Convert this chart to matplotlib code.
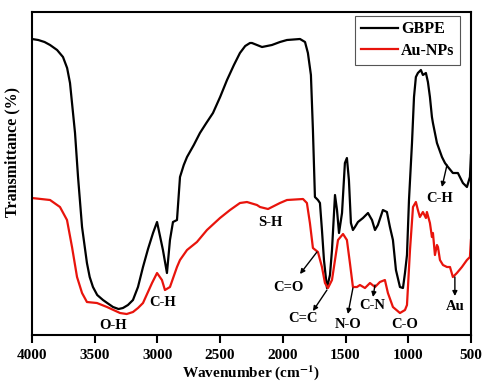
import matplotlib
matplotlib.use("Agg")
import matplotlib.pyplot as plt
import numpy as np

plt.rcParams['font.family'] = ['Liberation Serif', 'DejaVu Serif']
plt.rcParams['font.weight'] = 'bold'
plt.rcParams['mathtext.fontset'] = 'stix'

# GBPE spectrum (wavenumber, transmittance in arbitrary units)
gbpe_wn = [4000, 3950, 3900, 3856, 3800, 3753, 3720, 3697, 3657, 3633, 3601, 3562, 3540, 3514,
           3480, 3434, 3400, 3354, 3310, 3275, 3235, 3195, 3155, 3115, 3075, 3035, 3003, 2956,
           2924, 2900, 2876, 2844, 2820, 2790, 2764, 2710, 2661, 2610, 2557, 2500, 2445, 2390,
           2342, 2300, 2262, 2246, 2166, 2087, 2023, 1967, 1863,
           1823, 1800, 1776, 1760, 1744, 1720, 1704, 1688, 1672, 1648, 1624, 1608, 1584,
           1568, 1552, 1528, 1505, 1489, 1473, 1457, 1441, 1425, 1401, 1361, 1321, 1289,
           1265, 1242, 1202, 1170, 1146, 1122, 1098, 1066, 1042, 1026, 1010, 994, 970,
           954, 939, 923, 899, 883, 859, 843, 827, 811, 803, 771, 731, 707, 683, 644,
           604, 564, 532, 508, 500]
gbpe_t = [296, 295, 293, 290, 285, 278, 267, 252, 202, 158, 108, 72, 58, 48,
          40, 35, 32, 28, 26, 27, 30, 35, 48, 68, 86, 102, 113, 85,
          62, 95, 113, 115, 158, 170, 178, 190, 202, 212, 222, 238, 255, 270,
          282, 289, 292, 292, 288, 290, 293, 295, 296,
          293, 282, 260, 205, 138, 135, 132, 105, 75, 47, 60, 85, 140,
          125, 102, 122, 172, 177, 155, 112, 105, 108, 113, 117, 122, 115,
          105, 110, 125, 123, 108, 95, 65, 48, 47, 62, 80, 135, 192,
          238, 258, 262, 265, 260, 262, 253, 238, 218, 212, 192, 178, 172, 168, 162,
          162, 152, 148, 158, 180]

# Au-NPs spectrum
au_wn = [4000, 3856, 3777, 3721, 3681, 3641, 3601, 3562, 3482, 3402, 3298, 3245, 3195, 3155,
         3115, 3043, 3003, 2964, 2940, 2900, 2844, 2820, 2764, 2685, 2605, 2501, 2421, 2342,
         2286, 2206, 2182, 2118, 2023, 1967, 1839, 1808, 1784, 1760, 1720, 1688, 1664,
         1640, 1608, 1584, 1560, 1520, 1489, 1465, 1441, 1409, 1385, 1345, 1305, 1265,
         1226, 1186, 1162, 1122, 1066, 1026, 1010, 986, 962, 939, 923, 907, 883, 859,
         851, 827, 811, 803, 787, 771, 763, 747, 723, 691, 667, 644, 612, 572, 532,
         508, 500]
au_t = [137, 135, 128, 115, 88, 58, 42, 33, 32, 28, 22, 21, 23, 27,
        32, 52, 62, 55, 45, 48, 68, 75, 85, 93, 105, 117, 125, 132,
        133, 130, 128, 126, 132, 135, 136, 132, 112, 87, 83, 68, 52,
        47, 55, 75, 95, 101, 95, 72, 48, 48, 50, 47, 52, 48,
        53, 55, 42, 28, 22, 25, 30, 85, 128, 133, 125, 118, 123, 117,
        123, 112, 98, 102, 80, 90, 88, 75, 70, 68, 68, 58, 62, 68, 75,
        78, 95]

series_names = ['GBPE', 'Au-NPs']
xticks = [4000, 3500, 3000, 2500, 2000, 1500, 1000, 500]

# labels: (text, x, y) and arrows: (tail_x, tail_y, head_x, head_y)
labels = [('O-H', 3354, 10), ('C-H', 2956, 33), ('S-H', 2103, 113),
          ('C=O', 1959, 48), ('C=C', 1840, 17), ('N-O', 1481, 11),
          ('C-N', 1289, 30), ('C-O', 1026, 11), ('C-H', 747, 137), ('Au', 628, 29)]
arrows = [(1728, 83, 1863, 61), (1648, 45, 1760, 24), (1441, 47, 1481, 21),
          (1265, 50, 1281, 38), (691, 170, 731, 148), (628, 58, 628, 39)]

fig = plt.figure(figsize=(4.85, 3.81), dpi=100)
ax = fig.add_axes([0.066, 0.1207, 0.905, 0.8478])

ax.plot(gbpe_wn, gbpe_t, color='black', lw=1.6, label=series_names[0])
ax.plot(au_wn, au_t, color='#e8140c', lw=1.6, label=series_names[1])

ax.set_xlim(4000, 500)
ax.set_ylim(0, 323)
ax.set_xticks(xticks)
ax.set_xticklabels([str(t) for t in xticks], fontsize=11, fontweight='bold')
ax.set_yticks([])
ax.tick_params(axis='x', direction='out', length=6, width=1.5, pad=4)
for s in ax.spines.values():
    s.set_linewidth(1.5)

ax.set_xlabel(r'Wavenumber (cm$^{\mathbf{-1}}$)', fontsize=11, fontweight='bold', labelpad=1)
ax.set_ylabel('Transmittance (%)', fontsize=11.5, fontweight='bold')
ax.yaxis.set_label_coords(-0.027, 0.567)

for txt, x, y in labels:
    ax.text(x, y, txt, fontsize=10.5, fontweight='bold', ha='center', va='center')
for tx, ty, hx, hy in arrows:
    ax.annotate('', xy=(hx, hy), xytext=(tx, ty),
                arrowprops=dict(arrowstyle='-|>', color='black', lw=1.0,
                                mutation_scale=7, shrinkA=0, shrinkB=0))

leg = ax.legend(loc='upper right', bbox_to_anchor=(0.975, 0.988), borderaxespad=0,
                fancybox=False, edgecolor='#555555',
                prop={'weight': 'bold', 'size': 11.5},
                handlelength=2.3, handletextpad=0.2, labelspacing=0.35,
                borderpad=0.35, framealpha=1)
leg.get_frame().set_linewidth(0.8)

fig.savefig('out.png', dpi=100)
